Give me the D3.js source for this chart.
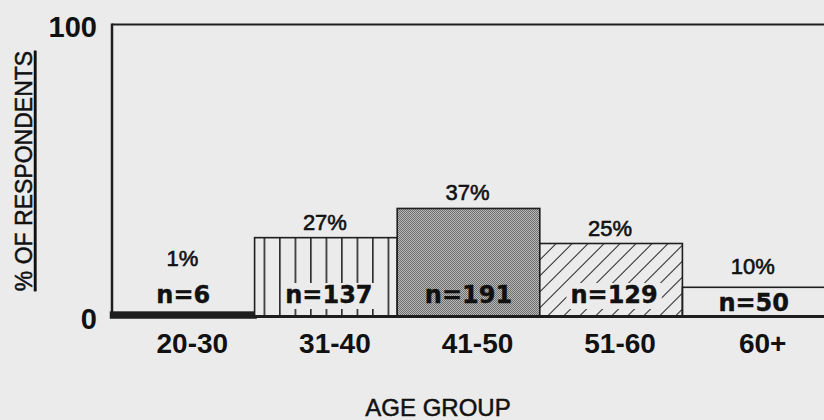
<!DOCTYPE html>
<html>
<head>
<meta charset="utf-8">
<script src="https://cdn.jsdelivr.net/npm/d3@7"></script>
<style>
  html, body { margin: 0; padding: 0; background: #ebebeb; }
  svg { display: block; }
</style>
</head>
<body>
<svg id="chart" width="824" height="420"></svg>
<script>
// ---- data ----
const categories = ["20-30", "31-40", "41-50", "51-60", "60+"];
const percents   = [1, 27, 37, 25, 10];
const counts     = [6, 137, 191, 129, 50];
const fills      = ["solid", "vertical", "stipple", "diagonal", "none"];
const yTicks     = [0, 100];
const yTitle     = "% OF RESPONDENTS";
const xTitle     = "AGE GROUP";

(function () {
// ---- layout ----
const W = 824, H = 420;
const plotLeft = 112, plotRight = 825, plotTop = 24.5, base = 316.5;
const paper = "#ebebeb", ink = "#1e1e1e";
const FONT = "'Liberation Sans', Arial, Helvetica, sans-serif";

const svg = d3.select("#chart");
svg.append("rect").attr("width", W).attr("height", H).attr("fill", paper);

const x = d3.scaleBand().domain(categories).range([plotLeft, plotRight]).padding(0);
const y = d3.scaleLinear().domain([0, 100]).range([base, plotTop]);

// ---- patterns ----
const defs = svg.append("defs");

const pv = defs.append("pattern").attr("id", "p-vertical")
  .attr("patternUnits", "userSpaceOnUse")
  .attr("x", x(categories[1]) + 9).attr("y", 0)
  .attr("width", 15.5).attr("height", 10);
pv.append("rect").attr("width", 15.5).attr("height", 10).attr("fill", paper);
pv.append("line").attr("x1", 0.75).attr("x2", 0.75).attr("y1", 0).attr("y2", 10)
  .attr("stroke", ink).attr("stroke-width", 1.6);

const ps = defs.append("pattern").attr("id", "p-stipple")
  .attr("patternUnits", "userSpaceOnUse").attr("width", 2).attr("height", 2);
ps.append("rect").attr("width", 2).attr("height", 2).attr("fill", "#b8b8b8");
ps.append("rect").attr("width", 1).attr("height", 1).attr("fill", "#6e6e6e");
ps.append("rect").attr("x", 1).attr("y", 1).attr("width", 1).attr("height", 1).attr("fill", "#6e6e6e");

const pd = defs.append("pattern").attr("id", "p-diagonal")
  .attr("patternUnits", "userSpaceOnUse")
  .attr("width", 11.3).attr("height", 11.3)
  .attr("patternTransform", "rotate(45)");
pd.append("rect").attr("width", 11.3).attr("height", 11.3).attr("fill", paper);
pd.append("line").attr("x1", 0).attr("x2", 0).attr("y1", 0).attr("y2", 11.3)
  .attr("stroke", ink).attr("stroke-width", 2);

const fillFor = f => f === "solid" ? "#111" :
                     f === "vertical" ? "url(#p-vertical)" :
                     f === "stipple" ? "url(#p-stipple)" :
                     f === "diagonal" ? "url(#p-diagonal)" : "none";

const data = categories.map((c, i) => ({c, p: percents[i], n: counts[i], f: fills[i]}));

// ---- bars ----
svg.append("g").selectAll("rect").data(data).join("rect")
  .attr("x", d => x(d.c))
  .attr("y", d => y(d.p))
  .attr("width", x.bandwidth())
  .attr("height", d => base - y(d.p))
  .attr("fill", d => fillFor(d.f))
  .attr("stroke", ink)
  .attr("stroke-width", d => d.f === "solid" ? 4.5 : 1.6);

// ---- frame ----
svg.append("line").attr("x1", plotLeft).attr("x2", W).attr("y1", y(100)).attr("y2", y(100))
  .attr("stroke", ink).attr("stroke-width", 2);
svg.append("line").attr("x1", plotLeft).attr("x2", plotLeft).attr("y1", y(100) - 1).attr("y2", base)
  .attr("stroke", ink).attr("stroke-width", 2.5);
svg.append("line").attr("x1", plotLeft).attr("x2", W).attr("y1", base).attr("y2", base)
  .attr("stroke", ink).attr("stroke-width", 3);

// ---- n labels ----
const nBase = 303, nCap = 18;
const nBaseline = d => {
  const t = y(d.p);
  return (t > nBase - nCap && t < base - 10) ? t + 24 : nBase;
};
const nG = svg.append("g");
const nTexts = nG.selectAll("text").data(data).join("text")
  .attr("x", d => x(d.c) + x.bandwidth() / 2 + (d.f === "vertical" || d.f === "diagonal" ? 3 : 0))
  .attr("y", d => nBaseline(d))
  .attr("text-anchor", "middle")
  .attr("font-family", "'DejaVu Sans', Verdana, sans-serif")
  .attr("font-weight", "bold")
  .attr("font-size", 24)
  .attr("fill", "#111")
  .attr("stroke", "#111").attr("stroke-width", 0.4)
  .text(d => "n=" + d.n);
nTexts.each(function(d) {
  if (d.f === "vertical" || d.f === "diagonal") {
    const b = this.getBBox();
    nG.insert("rect", "text")
      .attr("x", b.x - 4).attr("y", b.y + 2)
      .attr("width", b.width + 8).attr("height", b.height - 2)
      .attr("fill", paper);
  }
});

// ---- percent labels ----
svg.append("g").selectAll("text").data(data).join("text")
  .attr("x", d => x(d.c) + x.bandwidth() / 2 - 1)
  .attr("y", d => Math.min(y(d.p) - 8, nBaseline(d) - 37))
  .attr("text-anchor", "middle")
  .attr("font-family", FONT)
  .attr("font-size", 22)
  .attr("fill", "#111")
  .attr("stroke", "#111").attr("stroke-width", 0.6)
  .text(d => d.p + "%");

// ---- axes ----
const yAxis = svg.append("g").attr("transform", `translate(${plotLeft},0)`)
  .call(d3.axisLeft(y).tickValues(yTicks).tickSize(0).tickPadding(15).tickFormat(d3.format("d")));
yAxis.select(".domain").remove();
yAxis.selectAll("text").attr("font-family", FONT).attr("font-weight", "bold")
  .attr("font-size", 29).attr("fill", "#111").attr("dy", "0.42em");

const xAxis = svg.append("g").attr("transform", `translate(0,${base})`)
  .call(d3.axisBottom(x).tickSize(0).tickPadding(17));
xAxis.select(".domain").remove();
xAxis.selectAll("text").attr("font-family", FONT).attr("font-weight", "bold")
  .attr("font-size", 28).attr("fill", "#111").attr("dx", 9);

// ---- titles ----
svg.append("text")
  .attr("transform", "translate(32,171) rotate(-90)")
  .attr("text-anchor", "middle")
  .attr("font-family", FONT).attr("font-size", 23).attr("fill", "#111")
  .attr("stroke", "#111").attr("stroke-width", 0.5)
  .attr("text-decoration", "underline")
  .text(yTitle);

svg.append("text")
  .attr("x", 438).attr("y", 416)
  .attr("text-anchor", "middle")
  .attr("font-family", FONT).attr("font-size", 24).attr("fill", "#111")
  .attr("stroke", "#111").attr("stroke-width", 0.5)
  .text(xTitle);
})();
</script>
</body>
</html>
